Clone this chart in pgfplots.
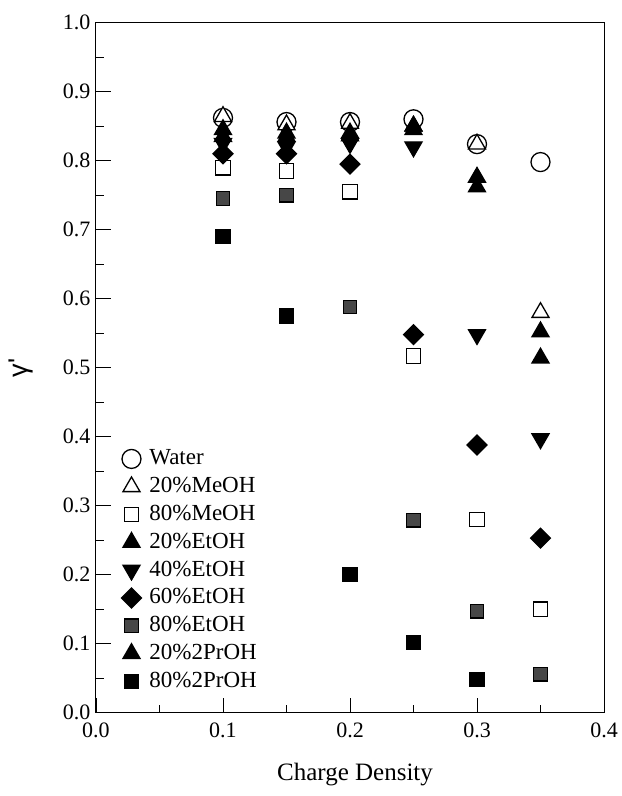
\documentclass[border=0pt]{standalone}
\usepackage{pgfplots}
\pgfplotsset{compat=1.18}
\usepackage{fontspec}
\setmainfont{Liberation Serif}
\newfontfamily\sansgr{Liberation Sans}
\begin{document}
\begin{tikzpicture}
\begin{axis}[
  scale only axis, width=508bp, height=690bp,
  xmin=0, xmax=0.4, ymin=0, ymax=1.0,
  axis line style={line width=1bp},
  tick pos=left, tick align=inside,
  major tick length=15bp, minor tick length=8bp,
  every tick/.style={black, line width=0.8bp},
  xtick={0,0.1,0.2,0.3,0.4}, minor xtick={0.05,0.15,0.25,0.35},
  ytick={0,0.1,0.2,0.3,0.4,0.5,0.6,0.7,0.8,0.9,1.0},
  minor ytick={0.05,0.15,0.25,0.35,0.45,0.55,0.65,0.75,0.85,0.95},
  /pgf/number format/assume math mode=true,
  /pgf/number format/.cd, fixed, fixed zerofill, precision=1, /pgfplots/.cd,
  tick label style={font=\fontsize{22bp}{26bp}\selectfont},
  xticklabel style={yshift=-7bp},
  yticklabel style={xshift=-2bp},
  xlabel={Charge Density},
  xlabel style={font=\fontsize{25bp}{30bp}\selectfont, at={(axis description cs:0.51,-0.09)}, anchor=center},
  ylabel={\sansgr γ'},
  ylabel style={font=\fontsize{27bp}{30bp}\selectfont, at={(axis description cs:-0.148,0.5)}, anchor=center},
  legend cell align=left,
  legend style={draw=none, fill=none, inner sep=0pt, row sep=5.8bp, column sep=7bp,
    at={(axis description cs:0.05,0.384)}, anchor=north west,
    font=\fontsize{23bp}{27bp}\selectfont,
    nodes={inner sep=1bp, text height=16bp, text depth=4bp}},
  every axis plot/.append style={only marks, line width=1.3bp},
]
% Water
\addplot[mark=*, mark size=9.5bp, mark options={draw=black, fill=white}] coordinates {
(0.10,0.862) (0.15,0.856) (0.20,0.856) (0.25,0.860) (0.30,0.824) (0.35,0.798)};
\addlegendentry{Water}
% 20%MeOH
\addplot[mark=triangle*, mark size=9.8bp, mark options={draw=black, fill=white}] coordinates {
(0.10,0.864) (0.15,0.852) (0.20,0.854) (0.25,0.850) (0.30,0.824) (0.35,0.580)};
\addlegendentry{20\%MeOH}
% 80%MeOH
\addplot[mark=square*, mark size=7.3bp, mark options={draw=black, fill=white}] coordinates {
(0.10,0.790) (0.15,0.785) (0.20,0.755) (0.25,0.517) (0.30,0.280) (0.35,0.150)};
\addlegendentry{80\%MeOH}
% 20%EtOH
\addplot[mark=triangle*, mark size=9.8bp, mark options={draw=black, fill=black}] coordinates {
(0.10,0.845) (0.15,0.840) (0.20,0.840) (0.25,0.845) (0.30,0.762) (0.35,0.514)};
\addlegendentry{20\%EtOH}
% 40%EtOH
\addplot[mark=triangle*, mark size=9.8bp, mark options={draw=black, fill=black, rotate=180}] coordinates {
(0.10,0.825) (0.15,0.820) (0.20,0.825) (0.25,0.820) (0.30,0.548) (0.35,0.397)};
\addlegendentry{40\%EtOH}
% 60%EtOH
\addplot[mark=square*, mark size=7bp, mark options={draw=black, fill=black, rotate=45}] coordinates {
(0.10,0.810) (0.15,0.810) (0.20,0.795) (0.25,0.548) (0.30,0.388) (0.35,0.253)};
\addlegendentry{60\%EtOH}
% 80%EtOH
\addplot[mark=square*, mark size=6.8bp, mark options={draw=black, fill=black!72}] coordinates {
(0.10,0.745) (0.15,0.750) (0.20,0.588) (0.25,0.279) (0.30,0.147) (0.35,0.056)};
\addlegendentry{80\%EtOH}
% 20%2PrOH
\addplot[mark=triangle*, mark size=9.8bp, mark options={draw=black, fill=black}] coordinates {
(0.10,0.835) (0.15,0.835) (0.20,0.836) (0.25,0.850) (0.30,0.776) (0.35,0.552)};
\addlegendentry{20\%2PrOH}
% 80%2PrOH
\addplot[mark=square*, mark size=7bp, mark options={draw=black, fill=black}] coordinates {
(0.10,0.690) (0.15,0.575) (0.20,0.200) (0.25,0.102) (0.30,0.048)};
\addlegendentry{80\%2PrOH}
\end{axis}
\path (current axis.south west) ++(-96bp,-83.3bp) coordinate (bbA);
\path (current axis.north east) ++(16bp,22.7bp) coordinate (bbB);
\path (bbA) rectangle (bbB);
\end{tikzpicture}
\end{document}
